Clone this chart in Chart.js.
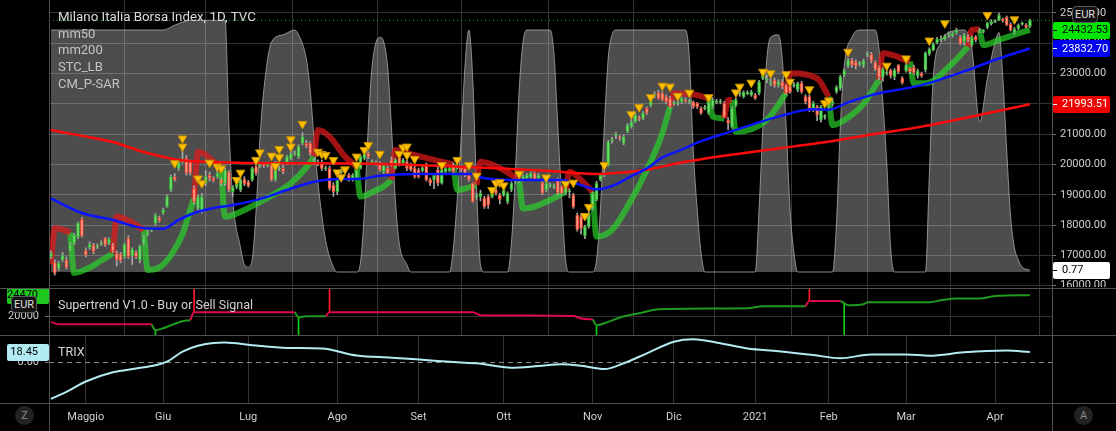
<!DOCTYPE html>
<html>
<head>
<meta charset="utf-8">
<script src="https://cdn.jsdelivr.net/npm/chart.js@4.4.1/dist/chart.umd.min.js"></script>
<style>
  html, body { margin: 0; padding: 0; background: #000; }
  body { width: 1116px; height: 431px; position: relative; overflow: hidden; font-family: Roboto, sans-serif; }
  canvas { position: absolute; left: 0; }
  .hline { position: absolute; left: 0; width: 1116px; height: 1px; background: #505050; z-index: 3; }
  .vline { position: absolute; top: 0; width: 1px; height: 431px; background: #505050; z-index: 3; }
  .txt { position: absolute; white-space: nowrap; z-index: 4; line-height: 16px; }
  .badge { position: absolute; z-index: 5; border: 1px solid #5a5a5a; border-radius: 4px; background: #111;
           color: #ddd; font-size: 11px; line-height: 15px; text-align: center; width: 24px; height: 15px; }
  .circ { position: absolute; z-index: 5; width: 19px; height: 19px; border-radius: 50%; background: #222;
          color: #888; font-size: 11px; line-height: 19px; text-align: center; }
</style>
</head>
<body>
<canvas id="main" width="1116" height="287" style="top:0"></canvas>
<canvas id="st" width="1116" height="47" style="top:288px"></canvas>
<canvas id="trix" width="1116" height="96" style="top:335px"></canvas>

<div class="hline" style="top:288px"></div>
<div class="hline" style="top:335px"></div>
<div class="hline" style="top:403px"></div>
<div class="vline" style="left:49px"></div>
<div class="vline" style="left:1052px"></div>

<div class="txt" style="left:58px;top:9px;font-size:13.3px;color:#dcdcdc">Milano Italia Borsa Index, 1D, TVC</div>
<div class="txt" style="left:58px;top:26px;font-size:13px;color:#c4c4c4">mm50</div>
<div class="txt" style="left:58px;top:42px;font-size:13px;color:#c4c4c4">mm200</div>
<div class="txt" style="left:58px;top:59px;font-size:13px;color:#c4c4c4">STC_LB</div>
<div class="txt" style="left:58px;top:76px;font-size:13px;color:#c4c4c4">CM_P-SAR</div>
<div class="txt" style="left:58px;top:297px;font-size:12.5px;color:#d4d4d4">Supertrend V1.0 - Buy or Sell Signal</div>
<div class="txt" style="left:58px;top:344px;font-size:12.5px;color:#d4d4d4">TRIX</div>

<div class="badge" style="left:1072px;top:6px">EUR</div>
<div class="badge" style="left:11px;top:296px">EUR</div>
<div class="circ" style="left:15px;top:406px">Z</div>
<div class="circ" style="left:1074px;top:406px">A</div>

<script>
// month ticks (bar index of first session of each month)
const monthIdx = [9, 29, 51, 74, 95, 117, 140, 161, 182, 201, 221, 244];
const monthLabels = ['Maggio', 'Giu', 'Lug', 'Ago', 'Set', 'Ott', 'Nov', 'Dic', '2021', 'Feb', 'Mar', 'Apr'];
const priceTicks = [16000, 17000, 18000, 19000, 20000, 21000, 22000, 23000, 24000, 25000];

// daily candles
const opens = [
  16950,16760,16570,16850,16850,17200,17400,17600,18190,17160,
  17260,17340,17280,17380,17560,17400,17340,17070,17050,16960,
  17560,16980,17090,16850,17400,17700,17820,18060,18250,18400,
  18610,19160,19600,19870,20100,20200,20090,19210,18550,18440,
  19380,19650,19540,19600,19490,19380,19760,19100,19250,19160,
  19510,19430,19490,19930,19950,20000,19970,19980,19490,19850,
  19870,20040,20200,20340,20260,20700,20700,20700,20080,20060,
  20040,19860,19870,19320,19100,19740,19760,19650,19490,19540,
  19870,20200,20370,20080,20030,20040,19760,19870,20150,19870,
  20260,20040,20090,19980,19870,19820,19800,19980,19490,19490,
  19820,19380,19760,19800,19980,19910,19900,19870,19650,19380,
  18930,18940,18880,18940,18940,19160,18990,18990,18770,19160,
  19420,19430,19490,19540,19580,19710,19540,19400,19160,19300,
  19260,19490,19270,19050,19100,18990,18330,18280,17640,17950,
  18550,18830,19490,19650,19980,20780,20950,20900,20700,21080,
  21250,21410,21550,21520,21850,21960,22270,22370,22350,22240,
  22180,22000,22020,22070,22130,22060,22070,22020,21850,21850,
  21690,21910,22050,22060,22020,21470,21250,21960,22330,22240,
  22340,22290,22290,22350,22840,22780,22670,22790,22620,22730,
  22620,22570,22600,22460,22680,22240,22240,21800,21910,21470,
  21570,21900,22010,22400,22510,22950,23250,23450,23390,23310,
  23280,23620,23640,23370,23210,22880,23020,23120,22900,23280,
  22840,23090,23170,23210,22920,23010,23120,23650,23780,24020,
  24100,24140,24290,24250,24350,24200,24050,24220,23950,24220,
  24390,24390,24520,24640,24710,24770,24790,24860,24630,24350,
  24490,24630,24600,24560
];
const closes = [
  17070,16410,16740,16990,16600,17350,17670,18060,17640,17010,
  17370,17120,17300,17410,17340,17530,17160,16850,16830,17370,
  16960,17200,16960,17310,17560,17780,17850,18330,18150,18500,
  18940,19600,19490,20090,20170,19710,19710,18770,18940,18940,
  19600,19540,19470,19710,19380,19820,19160,19250,19490,19490,
  19360,19290,19870,19710,19990,19960,20000,19490,20040,19890,
  19760,20260,20350,20380,20590,20920,20610,20370,20110,20030,
  19870,19890,19210,19100,19490,19780,19740,19490,19650,19820,
  20260,20420,20260,20100,20050,19820,19980,19710,20000,20150,
  19980,20150,19870,19820,19600,19600,19900,19490,19380,19650,
  19380,19820,19870,19870,19760,19940,19820,19650,19490,18770,
  18950,19050,18610,18660,19160,19050,18850,19160,19050,19380,
  19440,19450,19600,19650,19710,19510,19650,19050,19380,19330,
  19280,19070,19050,19270,19120,18610,17860,17890,17950,18390,
  19050,19380,19650,19700,20750,20820,20980,20870,20920,21300,
  21410,21630,21510,21690,21690,22130,22300,22180,22130,22070,
  21910,22030,22040,22180,22080,22080,21910,21910,21690,21880,
  22070,22130,22080,22090,21580,21360,21850,22130,22360,22380,
  22360,22400,22180,22730,23010,22800,22690,22620,22730,22570,
  22350,22400,22630,22680,22400,22070,21800,22020,21630,21910,
  21590,21980,22080,22550,22900,23100,23450,23280,23250,23330,
  23420,23650,23420,23150,22880,23150,23040,22930,23120,23060,
  22700,23280,23060,23030,23090,22920,23670,23800,23970,24140,
  24120,24240,24310,24330,24440,24000,24270,24110,24200,24110,
  24410,24420,24660,24720,24730,24930,24750,24610,24440,24460,
  24600,24650,24530,24770
];
const highs = [
  17150,16850,16800,17100,16950,17420,17720,18100,18250,17250,
  17450,17400,17380,17480,17600,17580,17400,17150,17100,17400,
  17650,17250,17150,17350,17650,17850,17900,18380,18300,18560,
  19000,19650,19700,20150,20450,20300,20150,19300,19000,19050,
  19800,19750,19600,19800,19550,19880,19800,19300,19550,19550,
  19600,19480,19920,19980,20050,20050,20080,20050,20100,19950,
  20000,20300,20420,20450,20650,21050,20800,20750,20200,20150,
  20150,19950,19950,19400,19550,19850,19900,19700,19700,19870,
  20300,20480,20420,20150,20120,20100,20050,19950,20250,20200,
  20350,20200,20150,20050,19950,19880,19950,20050,19550,19700,
  19950,19880,19920,19930,20050,20000,19950,19900,19700,19400,
  19050,19150,18950,19000,19200,19250,19050,19200,19100,19430,
  19500,19520,19650,19700,19760,19750,19700,19450,19450,19380,
  19350,19550,19300,19320,19200,19050,18400,18350,18000,18450,
  19100,19450,19700,19800,20800,20900,21050,20950,20980,21350,
  21500,21700,21600,21750,21900,22200,22400,22450,22400,22300,
  22250,22100,22100,22230,22200,22150,22100,22050,21900,21950,
  22100,22200,22150,22150,22080,21550,21900,22200,22450,22430,
  22430,22450,22350,22780,23100,22950,22850,22850,22800,22800,
  22650,22600,22700,22720,22750,22300,22300,22080,21950,21950,
  21650,22050,22150,22600,22950,23150,23500,23500,23450,23400,
  23480,23720,23700,23420,23250,23200,23100,23150,23170,23300,
  22900,23330,23200,23280,23150,23050,23720,23850,24020,24200,
  24250,24280,24380,24380,24500,24250,24330,24280,24250,24260,
  24500,24450,24700,24780,24780,25000,24830,24900,24680,24520,
  24640,24700,24650,24800
];
const lows = [
  16900,16350,16500,16800,16550,17150,17350,17550,17600,16950,
  17200,17050,17220,17330,17300,17350,17100,16650,16750,16900,
  16900,16700,16900,16750,17350,17650,17780,18000,18100,18350,
  18580,19100,19450,19800,20050,19650,19650,18700,18500,18400,
  19300,19450,19420,19550,19300,19300,19100,18950,19200,19100,
  19300,19250,19450,19650,19900,19900,19920,19450,19450,19800,
  19700,20000,20150,20300,20200,20650,20550,20300,20000,19950,
  19800,19800,19150,18950,19000,19700,19700,19450,19450,19500,
  19850,20150,20200,20000,19980,19780,19700,19650,19950,19850,
  19950,20000,19800,19780,19550,19550,19750,19450,19300,19200,
  19300,19350,19700,19750,19700,19850,19780,19600,19450,18750,
  18850,18800,18550,18550,18900,19000,18700,18950,18700,19100,
  19380,19400,19450,19500,19550,19480,19500,19000,19100,19250,
  19200,19000,19000,19000,18900,18550,17800,17700,17550,17900,
  18500,18800,19450,19600,19950,20700,20850,20800,20650,21050,
  21200,21380,21450,21480,21650,21900,22200,22150,22100,22000,
  21850,21950,21950,22000,22050,22000,21850,21850,21650,21800,
  21650,21850,22000,22000,21550,21150,21200,21900,22250,22200,
  22300,22250,22150,22300,22800,22700,22600,22550,22550,22500,
  22300,22350,22550,22400,22350,22000,21750,21750,21450,21400,
  21500,21850,21950,22350,22450,22900,23200,23200,23150,23250,
  23200,23550,23350,23100,22800,22750,22950,22850,22800,23000,
  22650,23050,23000,22980,22850,22880,23050,23600,23750,23980,
  24050,24100,24200,24200,24300,23950,23950,24050,23900,24050,
  24350,24350,24480,24600,24680,24750,24700,24580,24400,24300,
  24450,24600,24500,24520
];

// moving averages [bar, value]
const mm50 = [[0,18880],[8,18400],[16,18170],[24,17900],[29,17880],[33,18170],[37,18400],[42,18560],[47,18660],
  [55,18900],[61,19160],[68,19430],[74,19520],[80,19530],[85,19630],[94,19690],[109,19690],[111,19580],[119,19490],
  [132,19490],[137,19320],[141,19180],[145,19290],[150,19620],[154,19870],[158,20230],[163,20490],[167,20720],
  [173,20980],[176,21100],[188,21580],[197,21820],[201,21810],[206,22050],[212,22290],[214,22350],[225,22620],
  [237,23120],[245,23500],[253,23830]];
const mm200 = [[0,21140],[7,20970],[16,20740],[24,20410],[33,20150],[42,20080],[50,20050],[68,20040],[85,20020],
  [111,19900],[128,19790],[141,19690],[145,19710],[154,19830],[162,20040],[173,20270],[188,20530],[198,20700],
  [214,21030],[225,21250],[242,21690],[253,21990]];

// STC_LB oscillator (0-100)
const stc = [[0,100],[29,100],[32,102],[36,104],[45,104],[46,60],[47,30],[49,10],[50,3],[51,2],[52,5],[53,25],
  [54,55],[55,75],[57,95],[60,98],[63,100],[64,98],[66,88],[67,75],[68,55],[69,37],[71,13],[73,2],[74,0],[79,0],
  [80,4],[81,25],[82,60],[83,85],[85,97],[86,95],[87,85],[88,60],[89,30],[90,12],[92,3],[93,0],[103,0],[104,10],
  [105,30],[106,55],[107,85],[108,100],[109,80],[110,35],[111,3],[112,0],[118,0],[119,12],[120,40],[121,75],
  [122,95],[123,100],[129,100],[130,90],[131,60],[132,30],[133,5],[134,0],[140,0],[141,5],[142,26],[143,60],
  [144,88],[145,98],[146,100],[164,100],[165,88],[166,50],[167,26],[168,8],[169,0],[182,0],[183,26],[184,60],
  [185,88],[186,97],[188,98],[189,88],[190,60],[191,26],[192,8],[193,0],[202,0],[203,20],[204,60],[205,85],
  [207,97],[209,100],[213,100],[214,92],[215,70],[216,45],[217,10],[218,0],[226,0],[227,40],[228,80],[230,95],
  [232,99],[236,100],[238,92],[240,62],[242,80],[244,95],[245,99],[246,80],[247,50],[248,23],[249,10],[250,5],
  [251,2],[253,0.77]];

// CM_P-SAR, null = break between segments
const sarUp = [[5,17750],[6,16420],[10,16600],[13,16830],[16,17070], null,
  [24,17840],[25,16520],[28,16600],[31,17000],[34,17700],[36,18500],[37,18880], null,
  [44,19800],[45,18280],[50,18500],[55,18830],[62,19380],[66,19900],[68,20260], null,
  [79,19930],[80,18940],[84,19150],[86,19270],[88,19490], null,
  [104,20000],[105,19160],[110,19320], null,
  [121,19490],[122,18550],[125,18610],[129,18830],[133,19100], null,
  [140,19100],[141,17620],[145,17840],[149,18610],[154,19820],[158,21030],[160,21910], null,
  [170,22180],[171,21580],[174,21520], null,
  [176,22130],[177,21080],[185,21470],[190,22350], null,
  [201,22240],[202,21300],[206,21550],[210,22000],[214,22790], null,
  [222,23400],[223,22680],[226,22680],[233,23340],[237,23890], null,
  [240,24460],[241,23940],[245,24110],[250,24330],[253,24440]];
const sarDown = [[0,16700],[1,17900],[3,17850],[5,17750], null,
  [16,17070],[17,18280],[20,18150],[24,17840], null,
  [37,18880],[38,20420],[40,20310],[42,20100],[44,19800], null,
  [68,20260],[69,21140],[72,20920],[76,20260],[79,19930], null,
  [88,19490],[89,20480],[94,20310],[99,20150],[104,20000], null,
  [110,19320],[111,20090],[117,19820],[121,19490], null,
  [133,19100],[134,19760],[137,19490],[140,19100], null,
  [160,21910],[161,22350],[167,22290],[170,22180], null,
  [174,21520],[175,22130],[176,22130], null,
  [190,22350],[191,23010],[198,22840],[201,22240], null,
  [214,22790],[215,23670],[222,23400], null,
  [237,23890],[238,24440],[240,24460]];

// yellow markers above bars [bar, price]
const markers = [[32,20040],[34,20860],[34,20590],[38,19540],[39,19380],[41,20060],[43,19930],[44,19870],[48,19490],
  [49,19730],[53,20150],[54,20400],[57,20290],[58,19950],[59,20510],[59,20240],[62,20830],[62,20590],[65,21340],
  [69,20420],[70,20350],[71,20310],[73,20150],[74,19740],[75,19580],[76,19840],[79,20260],[79,19980],[81,20480],
  [82,20640],[85,20350],[90,20350],[91,20560],[92,20590],[92,20310],[94,20180],[101,19980],[105,20150],[108,19980],
  [110,19630],[114,19160],[115,19380],[116,19410],[117,19310],[121,19690],[128,19570],[133,19360],[135,19400],
  [138,18300],[139,18600],[143,19980],[150,21660],[152,21890],[155,22220],[158,22600],[160,22570],[162,22260],
  [165,22370],[170,22220],[177,22380],[178,22570],[181,22700],[184,23060],[186,23010],[190,22980],[191,22730],
  [196,22480],[200,22020],[201,22110],[206,23720],[216,23260],[221,23500],[227,24090],[231,24660],[242,24930],
  [249,24790]];

// right axis value tags
const sarLast = 24432.53, mm50Last = 23832.70, mm200Last = 21993.51, stcLast = 0.77;

// Supertrend pane
const stDown = [[0,18790],[2,18300],[26,18280], null,
  [36,19150],[37,20850],[63,20850], null,
  [71,20000],[72,20850],[109,20850],[111,20210],[135,20060],[137,19500],[140,19350], null,
  [195,22130],[196,23260],[204,23260]];
const stUp = [[26,18280],[27,17020],[29,17450],[34,18940],[36,19150], null,
  [63,20850],[64,19790],[66,20000],[71,20000], null,
  [140,19350],[141,18090],[144,18790],[147,19720],[152,20640],[157,21490],[180,21700],[184,22130],[195,22130], null,
  [204,23260],[205,22770],[206,22340],[210,22550],[211,22980],[227,22980],[230,23400],[234,23770],[240,23770],
  [244,24320],[253,24470]];
const stBuy = [[27,17020],[64,19790],[141,18090],[205,22770]];
const stSell = [[37,20850],[72,20850],[196,23260]];
const stLast = 24470;

// TRIX
const trix = [[0,-68],[4,-55],[9,-36],[16,-19],[22,-12],[27,-6],[30,0.6],[34,19],[38,30],[45,36],[52,31],[61,26],
  [70,25],[79,12],[88,8],[96,4],[105,-0.5],[110,-2.4],[119,-10.5],[126,-7.4],[132,-4.2],[137,-7],[143,-13],
  [148,-2.4],[154,16],[161,37.5],[166,42],[173,34.5],[180,25],[188,20],[197,13],[204,6.8],[212,14],[221,14],
  [227,11.6],[236,17.9],[247,21],[253,18.45]];

const X_MIN = -0.5, X_MAX = 258.7;
const GRID = '#333333';
const TICK_FONT = { family: 'Roboto', size: 11 };

const pts = arr => arr.map((p, i) => p ? { x: p[0], y: p[1] } : { x: arr[i - 1][0], y: null });

// keep panes flush with the canvas edges
const noPadV = s => { s.paddingTop = 0; s.paddingBottom = 0; };
const noPadH = s => { s.paddingLeft = 0; s.paddingRight = 0; };

function timeAxis(showLabels) {
  return {
    type: 'linear', min: X_MIN, max: X_MAX, offset: false,
    afterBuildTicks: s => { s.ticks = monthIdx.map(v => ({ value: v })); },
    grid: { color: GRID, drawTicks: false },
    border: { display: false },
    ticks: showLabels
      ? { display: true, autoSkip: false, maxRotation: 0, color: '#d0d0d0', font: TICK_FONT, padding: 8,
          callback: (v, i) => monthLabels[i] }
      : { display: false },
    afterFit: s => { s.height = showLabels ? 28 : 0; noPadH(s); }
  };
}

function tag(ctx, x, y, w, text, bg, fg, alignRight) {
  ctx.fillStyle = bg;
  ctx.beginPath();
  ctx.roundRect(x, Math.round(y - 8.5), w, 17, 2);
  ctx.fill();
  ctx.fillStyle = fg;
  ctx.font = '11px Roboto';
  ctx.textBaseline = 'middle';
  if (alignRight) {
    ctx.textAlign = 'right';
    ctx.fillText(text, x + w - 11, y + 0.5);
  } else {
    ctx.textAlign = 'left';
    ctx.fillRect(x, Math.round(y), 4, 1);
    ctx.fillText(text, x + 9, y + 0.5);
  }
}

const mainTags = {
  id: 'mainTags',
  afterDraw(chart) {
    const ctx = chart.ctx, a = chart.chartArea, y = chart.scales.y, s = chart.scales.stc;
    ctx.save();
    // last price line
    const yc = Math.round(y.getPixelForValue(closes[closes.length - 1])) + 0.5;
    ctx.strokeStyle = '#1e9e1e';
    ctx.setLineDash([1, 3]);
    ctx.beginPath(); ctx.moveTo(a.left, yc); ctx.lineTo(a.right, yc); ctx.stroke();
    ctx.setLineDash([]);
    tag(ctx, a.right + 1, y.getPixelForValue(sarLast), 57, sarLast.toFixed(2), '#00e600', '#000');
    tag(ctx, a.right + 1, y.getPixelForValue(mm50Last), 57, mm50Last.toFixed(2), '#0000f0', '#fff');
    tag(ctx, a.right + 1, y.getPixelForValue(mm200Last), 57, mm200Last.toFixed(2), '#f00000', '#fff');
    tag(ctx, a.right + 1, s.getPixelForValue(stcLast), 57, stcLast.toFixed(2), '#ffffff', '#000');
    ctx.restore();
  }
};

const candleColor = closes.map((c, i) => c >= opens[i]);

new Chart(document.getElementById('main'), {
  type: 'bar',
  data: {
    datasets: [
      { type: 'line', data: pts(markers), yAxisID: 'y', showLine: false, order: 0,
        pointStyle: 'triangle', rotation: 180, pointRadius: 5, pointBackgroundColor: '#ffc000',
        pointBorderColor: '#c89000', pointBorderWidth: 1 },
      { type: 'line', data: pts(mm50), yAxisID: 'y', borderColor: '#0a14ff', borderWidth: 2.5,
        pointRadius: 0, cubicInterpolationMode: 'monotone', order: 1 },
      { type: 'line', data: pts(mm200), yAxisID: 'y', borderColor: '#ff0a0a', borderWidth: 2.5,
        pointRadius: 0, cubicInterpolationMode: 'monotone', order: 2 },
      { data: opens.map((o, i) => ({ x: i, y: [o, closes[i]] })), yAxisID: 'y', order: 3,
        grouped: false, barThickness: 3, minBarLength: 1, borderWidth: 1, borderSkipped: false,
        backgroundColor: candleColor.map(g => g ? '#6fdc6f' : '#ff9a85'),
        borderColor: candleColor.map(g => g ? '#2fb12f' : '#e8432e') },
      { data: lows.map((l, i) => ({ x: i, y: [l, highs[i]] })), yAxisID: 'y', order: 4,
        grouped: false, barThickness: 1, backgroundColor: '#a8a8a8' },
      { type: 'line', data: pts(sarDown), yAxisID: 'y', borderColor: 'rgba(225,25,25,0.72)', borderWidth: 6,
        pointRadius: 0, cubicInterpolationMode: 'monotone', spanGaps: false, order: 5 },
      { type: 'line', data: pts(sarUp), yAxisID: 'y', borderColor: 'rgba(40,215,40,0.68)', borderWidth: 6,
        pointRadius: 0, cubicInterpolationMode: 'monotone', spanGaps: false, order: 6 },
      { type: 'line', data: pts(stc), yAxisID: 'stc', borderColor: 'rgba(170,170,170,0.8)', borderWidth: 1,
        backgroundColor: 'rgba(255,255,255,0.3)', fill: 'origin', pointRadius: 0,
        cubicInterpolationMode: 'monotone', order: 9 }
    ]
  },
  options: {
    responsive: false, animation: false, events: [],
    layout: { autoPadding: false, padding: { left: 49, right: 0, top: 0, bottom: 0 } },
    plugins: { legend: { display: false }, tooltip: { enabled: false } },
    scales: {
      x: timeAxis(false),
      y: { position: 'right', min: 15957, max: 25429,
           afterBuildTicks: s => { s.ticks = priceTicks.map(v => ({ value: v })); },
           afterFit: s => { s.width = 64; noPadV(s); },
           ticks: { color: '#d0d0d0', font: TICK_FONT, padding: 4, callback: v => v.toFixed(2) },
           grid: { color: GRID, tickLength: 4, tickColor: '#777' },
           border: { display: false } },
      stc: { display: false, min: -6.2, max: 112.4 }
    }
  },
  plugins: [mainTags]
});

const stTags = {
  id: 'stTags',
  afterDraw(chart) {
    const ctx = chart.ctx;
    ctx.save();
    tag(ctx, 7, chart.scales.y.getPixelForValue(stLast), 42, String(stLast), '#1ec81e', '#000', true);
    ctx.restore();
  }
};

new Chart(document.getElementById('st'), {
  type: 'bar',
  data: {
    datasets: [
      { type: 'line', data: pts(stDown), borderColor: '#dc0a4a', borderWidth: 2, pointRadius: 0,
        cubicInterpolationMode: 'monotone', spanGaps: false, order: 1 },
      { type: 'line', data: pts(stUp), borderColor: '#1f9a1f', borderWidth: 2, pointRadius: 0,
        cubicInterpolationMode: 'monotone', spanGaps: false, order: 2 },
      { data: stBuy.map(p => ({ x: p[0], y: [p[1], 16000] })), grouped: false, barThickness: 1,
        backgroundColor: '#10d010', order: 3 },
      { data: stSell.map(p => ({ x: p[0], y: [p[1], 26000] })), grouped: false, barThickness: 1,
        backgroundColor: '#ff1a2a', order: 3 }
    ]
  },
  options: {
    responsive: false, animation: false, events: [],
    layout: { autoPadding: false, padding: { left: 0, right: 64, top: 0, bottom: 0 } },
    plugins: { legend: { display: false }, tooltip: { enabled: false } },
    scales: {
      x: timeAxis(false),
      y: { position: 'left', min: 16000, max: 26000,
           afterFit: s => { s.width = 49; noPadV(s); },
           afterBuildTicks: s => { s.ticks = [{ value: 20000 }]; },
           ticks: { color: '#d0d0d0', font: TICK_FONT, padding: 6, callback: v => String(v) },
           grid: { color: GRID, tickLength: 4, tickColor: '#777' },
           border: { display: false } }
    }
  },
  plugins: [stTags]
});

const trixTags = {
  id: 'trixTags',
  afterDraw(chart) {
    const ctx = chart.ctx;
    ctx.save();
    tag(ctx, 7, chart.scales.y.getPixelForValue(trix[trix.length - 1][1]), 42,
        trix[trix.length - 1][1].toFixed(2), '#b2ebf2', '#000', true);
    ctx.restore();
  }
};

new Chart(document.getElementById('trix'), {
  type: 'line',
  data: {
    datasets: [
      { data: pts(trix), borderColor: '#b2ebf2', borderWidth: 2, pointRadius: 0, cubicInterpolationMode: 'monotone' }
    ]
  },
  options: {
    responsive: false, animation: false, events: [],
    layout: { autoPadding: false, padding: { left: 0, right: 64, top: 0, bottom: 0 } },
    plugins: { legend: { display: false }, tooltip: { enabled: false } },
    scales: {
      x: timeAxis(true),
      y: { position: 'left', min: -75.6, max: 49.8,
           afterFit: s => { s.width = 49; noPadV(s); },
           afterBuildTicks: s => { s.ticks = [{ value: 0 }]; },
           ticks: { color: '#d0d0d0', font: TICK_FONT, padding: 6, callback: v => v.toFixed(2) },
           grid: { color: '#8a8a8a', tickLength: 4, tickColor: '#777' },
           border: { display: false, dash: [5, 4] } }
    }
  },
  plugins: [trixTags]
});
</script>
</body>
</html>
